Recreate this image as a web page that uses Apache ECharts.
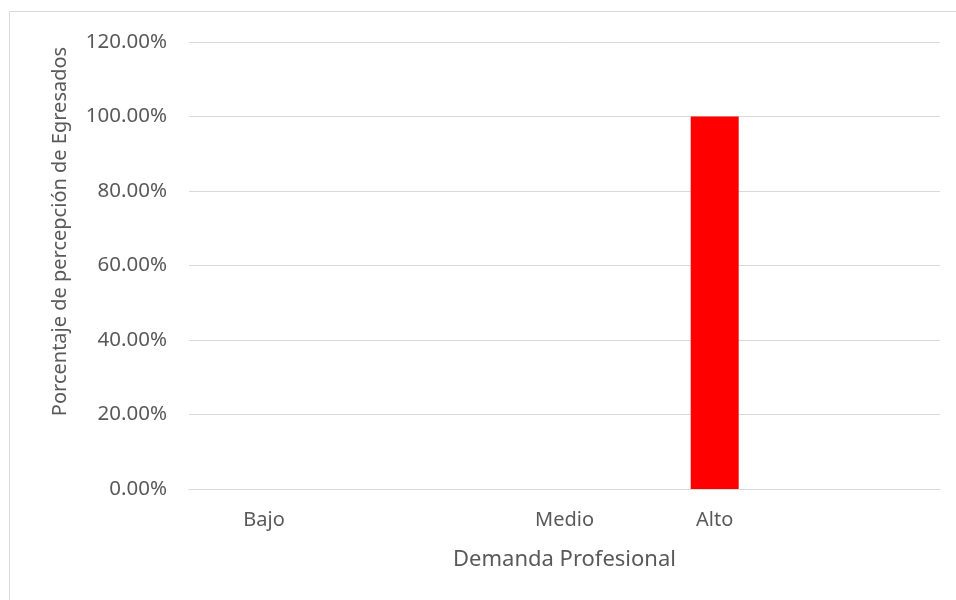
<!DOCTYPE html>
<html>
<head>
<meta charset="utf-8">
<script src="https://cdn.jsdelivr.net/npm/echarts@6/dist/echarts.min.js"></script>
<style>html,body{margin:0;padding:0;background:#fff}#c{width:956px;height:600px}</style>
</head>
<body>
<div id="c"></div>
<script>
const categories = ['Bajo', '', 'Medio', 'Alto', ''];
const values = [0, null, 0, 1.0, null];
const yTicks = { min: 0, max: 1.2, interval: 0.2 };
const xTitle = 'Demanda Profesional';
const yTitle = 'Porcentaje de percepción de Egresados';

const FONT = 'Noto Sans';
const TXT = '#595959';
const chart = echarts.init(document.getElementById('c'), null, { renderer: 'canvas' });
chart.setOption({
  animation: false,
  backgroundColor: '#fff',
  textStyle: { fontFamily: FONT },
  graphic: [{
    type: 'rect', silent: true,
    shape: { x: 9.5, y: 11.5, width: 980, height: 620 },
    style: { fill: 'none', stroke: '#d9d9d9', lineWidth: 1 }
  }],
  grid: { left: 189, right: 16, top: 42, bottom: 111, containLabel: false },
  xAxis: {
    type: 'category',
    data: categories,
    name: xTitle,
    nameLocation: 'middle',
    nameGap: 60,
    nameTextStyle: { color: TXT, fontSize: 22, fontFamily: FONT },
    axisLine: { show: true, lineStyle: { color: '#d9d9d9', width: 1 } },
    axisTick: { show: false },
    axisLabel: { color: TXT, fontSize: 20, fontFamily: FONT, margin: 21, interval: 0 },
    splitLine: { show: false }
  },
  yAxis: {
    type: 'value',
    min: yTicks.min, max: yTicks.max, interval: yTicks.interval,
    name: yTitle,
    nameLocation: 'middle',
    nameGap: 119,
    nameTextStyle: { color: TXT, fontSize: 20, fontFamily: FONT, padding: [0, 0, 0, 68] },
    axisLine: { show: false },
    axisTick: { show: false },
    axisLabel: {
      color: TXT, fontSize: 20.5, fontFamily: FONT, margin: 22,
      formatter: v => (v * 100).toFixed(2) + '%'
    },
    splitLine: { lineStyle: { color: '#d9d9d9', width: 1 } }
  },
  series: [{
    type: 'bar',
    data: values,
    barWidth: 48,
    itemStyle: { color: '#ff0000' }
  }]
});
</script>
</body>
</html>
